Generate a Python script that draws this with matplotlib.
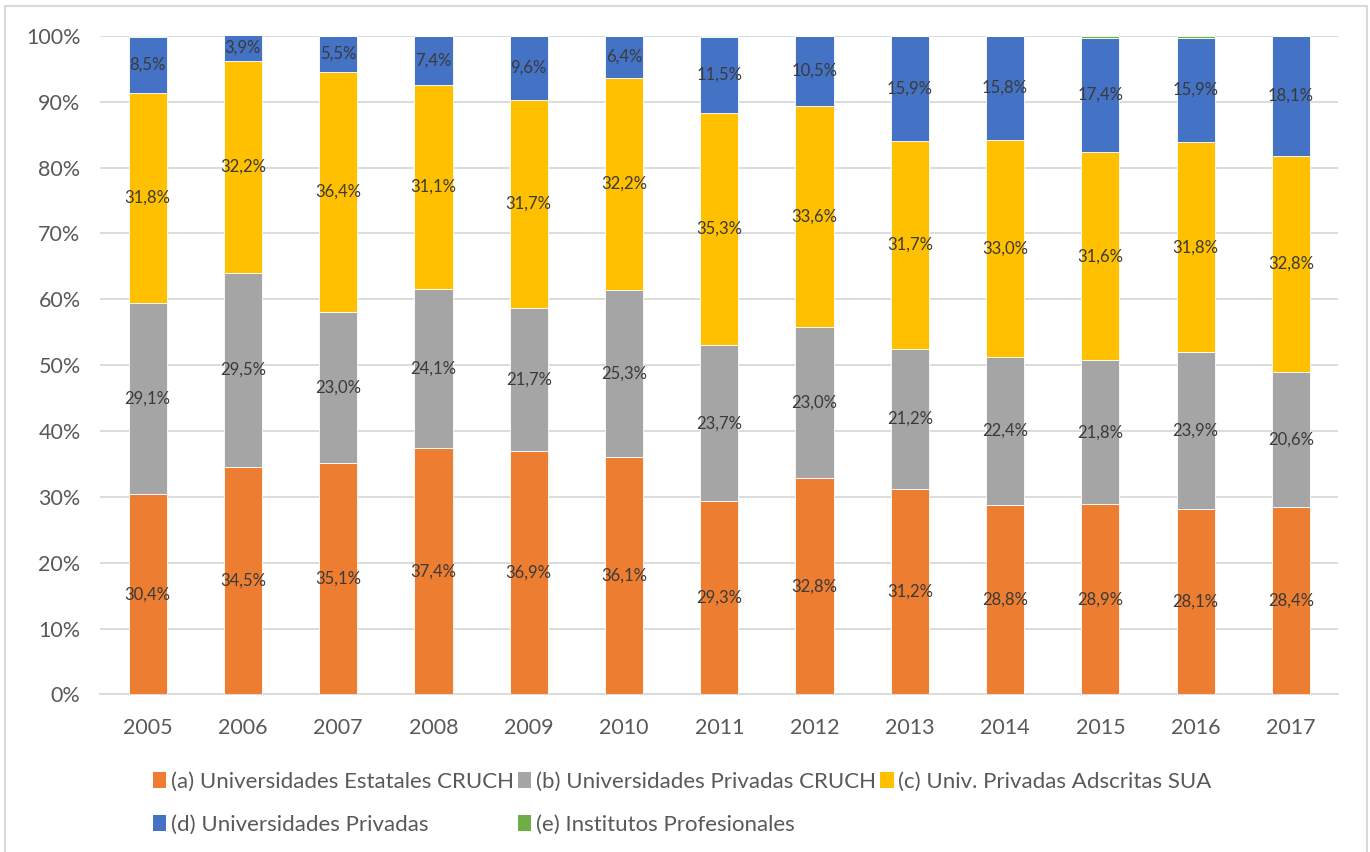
import matplotlib.pyplot as plt
from matplotlib.patches import Patch
from matplotlib.lines import Line2D
import numpy as np

plt.rcParams['font.family'] = ['Lato', 'DejaVu Sans']

years = ['2005', '2006', '2007', '2008', '2009', '2010', '2011',
         '2012', '2013', '2014', '2015', '2016', '2017']

estatales_cruch = [30.4, 34.5, 35.1, 37.4, 36.9, 36.1, 29.3, 32.8, 31.2, 28.8, 28.9, 28.1, 28.4]
privadas_cruch = [29.1, 29.5, 23.0, 24.1, 21.7, 25.3, 23.7, 23.0, 21.2, 22.4, 21.8, 23.9, 20.6]
adscritas_sua = [31.8, 32.2, 36.4, 31.1, 31.7, 32.2, 35.3, 33.6, 31.7, 33.0, 31.6, 31.8, 32.8]
univ_privadas = [8.5, 3.9, 5.5, 7.4, 9.6, 6.4, 11.5, 10.5, 15.9, 15.8, 17.4, 15.9, 18.1]
institutos = [0.2, 0.0, 0.0, 0.0, 0.1, 0.0, 0.2, 0.1, 0.0, 0.0, 0.3, 0.3, 0.0]

labels = ['(a) Universidades Estatales CRUCH', '(b) Universidades Privadas CRUCH',
          '(c) Univ. Privadas Adscritas SUA', '(d) Universidades Privadas',
          '(e) Institutos Profesionales']
colors = ['#ED7D31', '#A5A5A5', '#FFC000', '#4472C4', '#70AD47']


def plot_bars():
    series = [estatales_cruch, privadas_cruch, adscritas_sua, univ_privadas, institutos]
    fig = plt.figure(figsize=(13.7, 8.52), dpi=100)
    ax = fig.add_axes([0.073, 0.185, 0.904, 0.773])
    x = np.arange(len(years))
    bottom = np.zeros(len(years))
    for i, vals in enumerate(series):
        vals = np.array(vals)
        ax.bar(x, vals, 0.4, bottom=bottom, color=colors[i], edgecolor='white',
               linewidth=0.6, zorder=3)
        if i < 4:
            for xi, b, v in zip(x, bottom, vals):
                ax.text(xi, b + v / 2, f'{v:.1f}%'.replace('.', ','), ha='center',
                        va='center', fontsize=12, color='#3A3A3A', zorder=4)
        bottom += vals

    ax.set_xlim(-0.5, len(years) - 0.5)
    ax.set_ylim(0, 100)
    ax.set_yticks(np.arange(0, 101, 10))
    ax.set_yticklabels([f'{v}%' for v in range(0, 101, 10)])
    ax.set_xticks(x)
    ax.set_xticklabels(years)
    ax.tick_params(length=0, labelsize=15.5, colors='#595959')
    ax.tick_params(axis='x', pad=17)
    ax.tick_params(axis='y', pad=14)
    ax.grid(axis='y', color='#D9D9D9', linewidth=1.3, zorder=0)
    for s in ['top', 'right', 'left']:
        ax.spines[s].set_visible(False)
    ax.spines['bottom'].set_color('#D9D9D9')
    ax.spines['bottom'].set_linewidth(1.3)

    handles = [Patch(facecolor=c) for c in colors]
    order = [0, 3, 1, 4, 2]
    leg = fig.legend([handles[k] for k in order], [labels[k] for k in order],
                     ncol=3, loc='upper left', bbox_to_anchor=(0.105, 0.1045),
                     frameon=False, fontsize=16, handlelength=0.6, handleheight=0.75,
                     handletextpad=0.2, columnspacing=0.2, labelspacing=1.02,
                     borderaxespad=0)
    for t in leg.get_texts():
        t.set_color('#595959')

    # outer chart border
    W, H = 1370, 852
    for xs, ys in [([5 / W, 5 / W], [0, 1 - 6 / H]),
                   ([5 / W, 1367 / W], [1 - 6 / H, 1 - 6 / H]),
                   ([1367 / W, 1367 / W], [0, 1 - 6 / H])]:
        fig.add_artist(Line2D(xs, ys, color='#D9D9D9', linewidth=1.5))

    fig.savefig('out.png', dpi=100)
    print('Wrote to out.png')


if __name__ == '__main__':
    plot_bars()
